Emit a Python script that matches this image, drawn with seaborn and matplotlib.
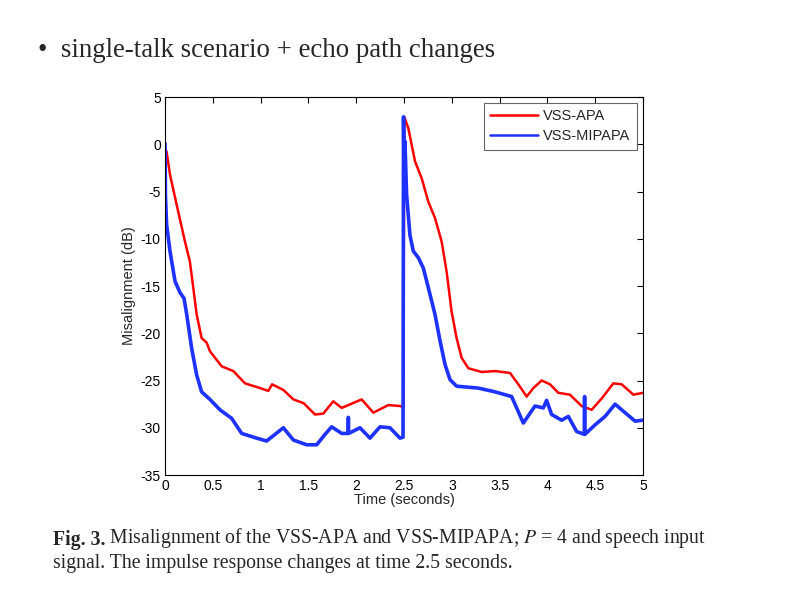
import numpy as np
import pandas as pd
import matplotlib
matplotlib.use('Agg')
import matplotlib.pyplot as plt
import seaborn as sns

# misalignment curves (time in s, misalignment in dB)
apa_t = [0.0, 0.017, 0.052, 0.122, 0.209, 0.26, 0.296, 0.331, 0.383, 0.436, 0.47,
         0.593, 0.715, 0.837, 0.994, 1.081, 1.12, 1.238, 1.343, 1.45, 1.57, 1.656,
         1.76, 1.848, 2.057, 2.179, 2.336, 2.458, 2.495,
         2.50, 2.503, 2.545, 2.615, 2.685, 2.755, 2.824, 2.894, 2.946, 2.998, 3.05,
         3.103, 3.173, 3.312, 3.452, 3.609, 3.696, 3.783, 3.853, 3.94, 4.027, 4.114,
         4.236, 4.358, 4.463, 4.568, 4.69, 4.777, 4.899, 5.0]
apa_db = [-0.5, -0.8, -3.2, -6.4, -10.3, -12.4, -15.2, -18.0, -20.5, -21.0, -21.9,
          -23.5, -24.0, -25.3, -25.8, -26.1, -25.4, -26.0, -27.0, -27.4, -28.6, -28.5,
          -27.2, -27.9, -27.0, -28.4, -27.6, -27.7, -27.8,
          -4.0, 2.9, 1.7, -1.8, -3.6, -6.1, -7.8, -10.3, -13.5, -17.7, -20.5,
          -22.6, -23.7, -24.1, -24.0, -24.2, -25.4, -26.7, -25.8, -25.0, -25.4, -26.3,
          -26.5, -27.7, -28.1, -26.9, -25.3, -25.4, -26.5, -26.3]

mipapa_t = [0.0, 0.005, 0.017, 0.052, 0.105, 0.157, 0.199, 0.227, 0.279, 0.331, 0.383,
            0.47, 0.575, 0.697, 0.802, 0.959, 1.063, 1.151, 1.238, 1.343, 1.482, 1.587,
            1.674, 1.743, 1.848, 1.915, 1.918, 1.921, 2.04, 2.144, 2.249, 2.353, 2.458,
            2.49, 2.495, 2.503, 2.51, 2.527, 2.562, 2.597, 2.65, 2.702, 2.755, 2.824,
            2.877, 2.929, 2.981, 3.05, 3.277, 3.452, 3.626, 3.696, 3.748, 3.87, 3.957,
            3.992, 4.044, 4.149, 4.219, 4.306, 4.386, 4.389, 4.392, 4.498, 4.603, 4.708,
            4.812, 4.917, 5.0]
mipapa_db = [0.1, -5.5, -8.5, -11.3, -14.5, -15.7, -16.3, -18.0, -21.6, -24.4, -26.2,
             -27.0, -28.1, -29.0, -30.6, -31.1, -31.4, -30.7, -30.0, -31.3, -31.8, -31.8,
             -30.7, -29.9, -30.6, -30.6, -28.9, -30.6, -30.0, -31.1, -29.9, -30.0, -31.1,
             -31.0, 2.9, -5.3, 0.3, -5.3, -9.6, -11.3, -12.0, -13.1, -15.2, -18.0,
             -20.8, -23.3, -24.9, -25.6, -25.8, -26.2, -26.7, -28.3, -29.5, -27.7, -27.9,
             -27.1, -28.6, -29.2, -28.8, -30.4, -30.7, -26.7, -30.7, -29.7, -28.8, -27.5,
             -28.4, -29.3, -29.2]

df = pd.concat([
    pd.DataFrame({'t': apa_t, 'db': apa_db, 'alg': 'VSS-APA'}),
    pd.DataFrame({'t': mipapa_t, 'db': mipapa_db, 'alg': 'VSS-MIPAPA'}),
])

sns.set_style('white')
plt.rcParams['font.family'] = ['Liberation Sans', 'DejaVu Sans']
plt.rcParams['mathtext.fontset'] = 'stix'
plt.rcParams['axes.unicode_minus'] = False

fig = plt.figure(figsize=(8, 5.99), dpi=100)
ax = fig.add_axes([0.20625, 0.207, 0.5975, 0.631])

sns.lineplot(data=df, x='t', y='db', hue='alg', sort=False, estimator=None,
             palette={'VSS-APA': '#ff0000', 'VSS-MIPAPA': '#1e32ff'},
             linewidth=1.8, ax=ax)
# the MIPAPA trace is a thick, jittery band in the original
ax.get_lines()[1].set_linewidth(2.6)

ax.set_xlim(0, 5)
ax.set_ylim(-35, 5)
ax.set_xticks(np.arange(0, 5.01, 0.5))
ax.set_xticklabels(['0', '0.5', '1', '1.5', '2', '2.5', '3', '3.5', '4', '4.5', '5'])
ax.set_yticks(np.arange(-35, 6, 5))
ax.tick_params(direction='in', top=True, right=True, length=4, width=0.8,
               labelsize=10, colors='black', pad=3)
for s in ax.spines.values():
    s.set_color('black')
    s.set_linewidth(0.8)
ax.set_xlabel('Time (seconds)', fontsize=10.5, labelpad=0)
ax.set_ylabel('Misalignment (dB)', fontsize=10.5, labelpad=3)

leg = ax.legend(loc='upper right', fontsize=10.5, frameon=True, fancybox=False,
                edgecolor='#404040', handlelength=3.3, handletextpad=0.35,
                borderpad=0.45, borderaxespad=0.4, labelspacing=0.4)
leg.get_frame().set_linewidth(0.8)
leg.set_title(None)
for h in leg.get_lines():
    h.set_linewidth(1.8)

fig.text(0.047, 0.915, '\u2022  single-talk scenario + echo path changes',
         family=['Liberation Serif', 'DejaVu Serif'], fontsize=19.4, va='center')

t1 = fig.text(0.066, 0.081, 'Fig. 3.', family='Liberation Serif', fontweight='bold',
              fontsize=14.2, va='bottom')
ax.annotate(' Misalignment of the VSS-APA and VSS-MIPAPA; $P$ = 4 and speech input',
            xy=(1, 0), xycoords=t1, va='bottom', ha='left',
            family='Liberation Serif', fontsize=14.2, annotation_clip=False)
fig.text(0.066, 0.043, 'signal. The impulse response changes at time 2.5 seconds.',
         family='Liberation Serif', fontsize=14.2, va='bottom')

fig.savefig('out.png', dpi=100)
